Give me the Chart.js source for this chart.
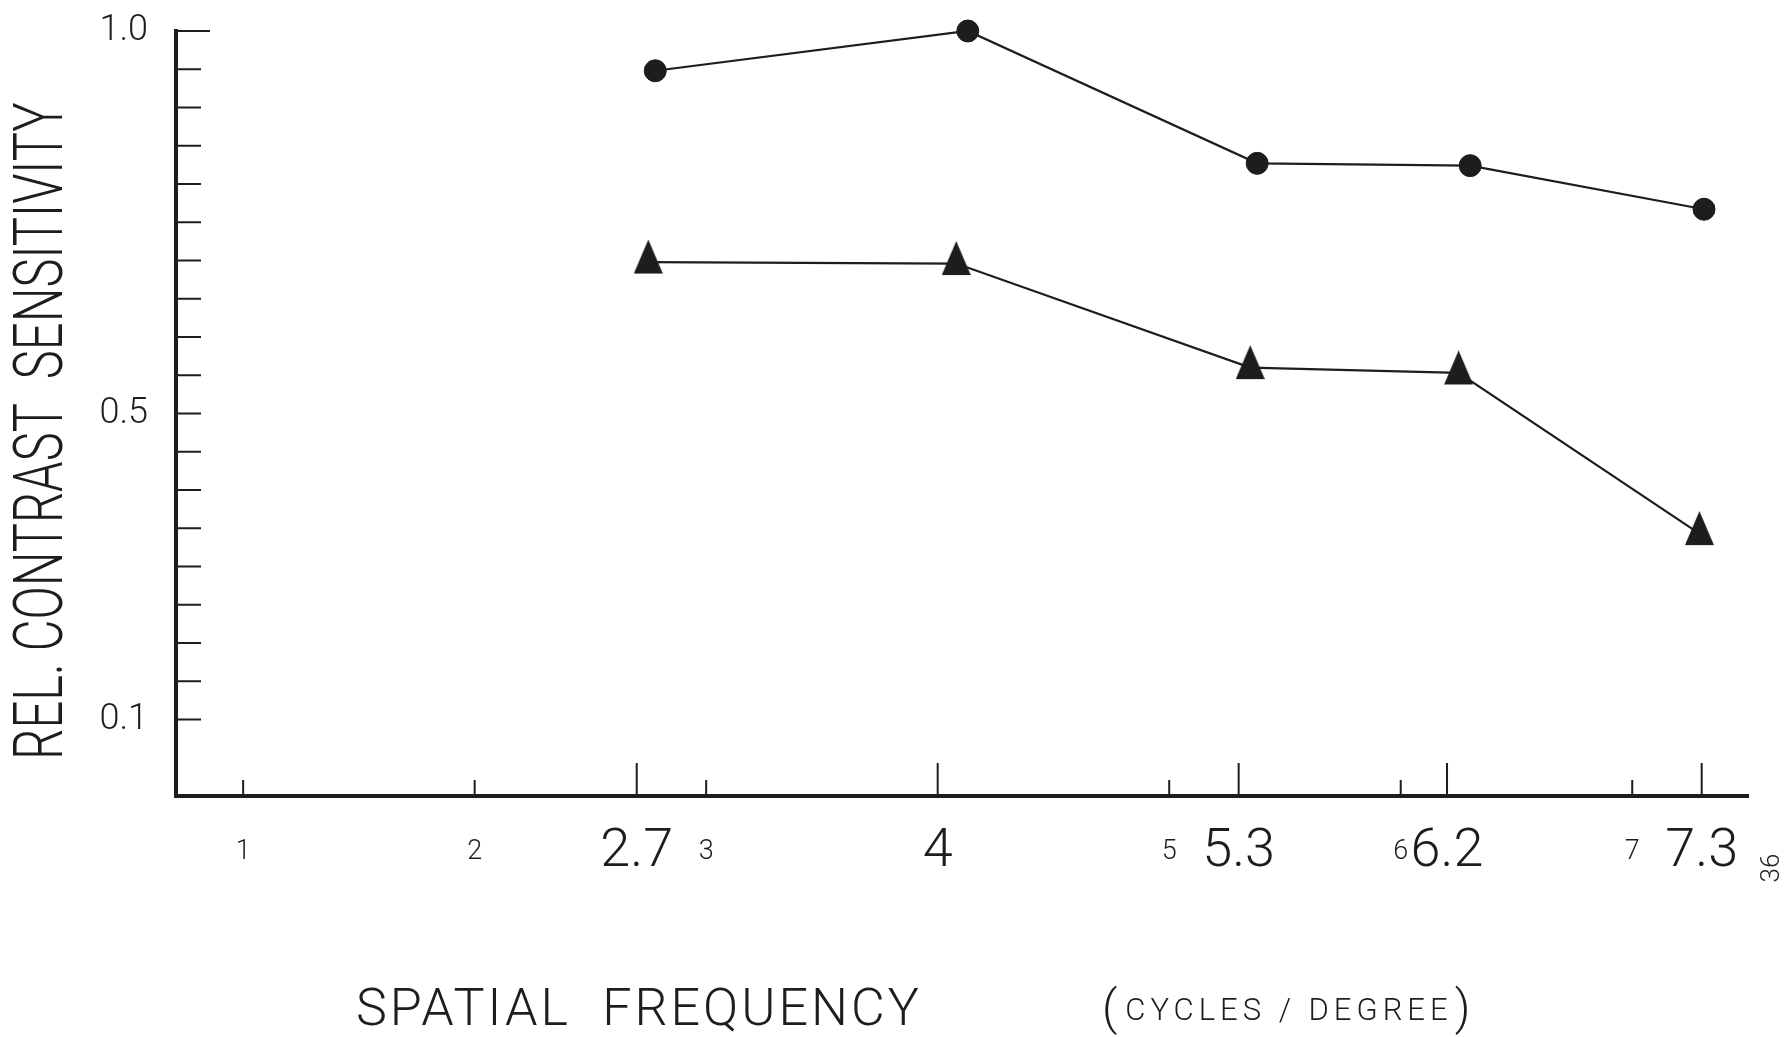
<!DOCTYPE html>
<html>
<head>
<meta charset="utf-8">
<title>Relative contrast sensitivity vs spatial frequency</title>
<script src="https://cdn.jsdelivr.net/npm/chart.js@4.4.1/dist/chart.umd.min.js"></script>
<style>
  html, body { margin: 0; padding: 0; background: #fff; }
  #wrap { width: 1791px; height: 1037px; position: relative; }
</style>
</head>
<body>
<div id="wrap"><canvas id="csChart"></canvas></div>
<script>
// Values
const frequencies = [2.7, 4, 5.3, 6.2, 7.3];   // tested frequencies (big labels)
const integerTicks = [1, 2, 3, 4, 5, 6, 7];    // small scale numbers
const yLabelValues = [0.1, 0.5, 1.0];

// upper curve (filled circles), at the positions they are drawn
const circleX = [2.78, 4.13, 5.38, 6.30, 7.31];
const circleY = [0.948, 1.0, 0.827, 0.824, 0.767];

// lower curve (filled triangles)
const triangleX = [2.75, 4.08, 5.35, 6.25, 7.29];
const triangleY = [0.698, 0.696, 0.560, 0.553, 0.343];

const INK = '#1d1d1d';
const FONT = 'Roboto, "Open Sans", sans-serif';
const BIG = 54;     // size of the frequency labels
const SMALL = 27;   // size of the integer labels

document.addEventListener('DOMContentLoaded', function() {
    initializeChart();
});

function isFrequency(v) {
    return frequencies.some(f => Math.abs(f - v) < 1e-9);
}

// narrow filled triangle; canvas centre sits on the centroid so the line meets it there
function makeTriangle(w, h) {
    const c = document.createElement('canvas');
    c.width = w;
    c.height = Math.round(h * 4 / 3);
    const g = c.getContext('2d');
    g.fillStyle = INK;
    g.beginPath();
    g.moveTo(w / 2, 0);
    g.lineTo(w, h);
    g.lineTo(0, h);
    g.closePath();
    g.fill();
    return c;
}

// inward tick marks and the hand-lettered axis titles
const sketchAxes = {
    id: 'sketchAxes',
    beforeDatasetsDraw(chart) {
        const { ctx, scales: { x, y } } = chart;
        ctx.save();
        ctx.strokeStyle = INK;
        ctx.lineWidth = 2;
        ctx.beginPath();
        y.ticks.forEach(t => {
            if (t.value < 0.099) return;
            const py = y.getPixelForValue(t.value);
            const len = t.value > 0.999 ? 34 : 25;
            ctx.moveTo(y.right, py);
            ctx.lineTo(y.right + len, py);
        });
        x.ticks.forEach(t => {
            const px = x.getPixelForValue(t.value);
            const len = isFrequency(t.value) ? 33 : 16;
            ctx.moveTo(px, x.top);
            ctx.lineTo(px, x.top - len);
        });
        ctx.stroke();
        ctx.restore();
    },
    afterDraw(chart) {
        const ctx = chart.ctx;
        ctx.save();
        ctx.fillStyle = INK;
        ctx.textBaseline = 'middle';

        // y title, condensed like the original lettering
        ctx.save();
        ctx.translate(45, 431);
        ctx.rotate(-Math.PI / 2);
        ctx.scale(0.72, 1);
        ctx.textAlign = 'center';
        ctx.font = '300 68px ' + FONT;
        ctx.fillText('REL. CONTRAST  SENSITIVITY', 0, 0);
        ctx.restore();

        // x title
        ctx.textAlign = 'left';
        ctx.font = '300 52px ' + FONT;
        ctx.letterSpacing = '3px';
        ctx.fillText('SPATIAL  FREQUENCY', 356, 1012);

        let cx = 1102;
        ctx.letterSpacing = '0px';
        ctx.font = '300 48px ' + FONT;
        ctx.fillText('(', cx, 1012);
        cx += ctx.measureText('(').width + 8;
        ctx.font = '300 31px ' + FONT;
        ctx.letterSpacing = '5px';
        ctx.fillText('CYCLES / DEGREE', cx, 1012);
        cx += ctx.measureText('CYCLES / DEGREE').width + 2;
        ctx.letterSpacing = '0px';
        ctx.font = '300 48px ' + FONT;
        ctx.fillText(')', cx, 1012);

        // page number in the margin, written sideways
        ctx.save();
        ctx.translate(1772, 868);
        ctx.rotate(-Math.PI / 2);
        ctx.textAlign = 'center';
        ctx.font = '300 26px ' + FONT;
        ctx.fillText('36', 0, 0);
        ctx.restore();
        ctx.restore();
    }
};

function initializeChart() {
    const canvas = document.getElementById('csChart');
    if (!canvas) return;

    const xTickValues = Array.from(new Set(integerTicks.concat(frequencies))).sort((a, b) => a - b);

    new Chart(canvas.getContext('2d'), {
        type: 'scatter',
        data: {
            datasets: [{
                label: 'circles',
                data: circleX.map((x, i) => ({ x: x, y: circleY[i] })),
                showLine: true,
                borderColor: INK,
                borderWidth: 2.2,
                pointStyle: 'circle',
                pointRadius: 11,
                pointBackgroundColor: INK,
                pointBorderColor: INK,
                pointBorderWidth: 1,
                clip: false
            }, {
                label: 'triangles',
                data: triangleX.map((x, i) => ({ x: x, y: triangleY[i] })),
                showLine: true,
                borderColor: INK,
                borderWidth: 2.2,
                pointStyle: makeTriangle(29, 34),
                pointRadius: 15,
                clip: false
            }]
        },
        options: {
            responsive: true,
            maintainAspectRatio: false,
            animation: false,
            layout: { padding: { top: 31, right: 43, left: 0, bottom: 0 } },
            plugins: {
                legend: { display: false },
                tooltip: { enabled: false }
            },
            scales: {
                x: {
                    type: 'linear',
                    min: 0.71,
                    max: 7.5,
                    afterBuildTicks: s => { s.ticks = xTickValues.map(v => ({ value: v })); },
                    afterFit: s => {
                        s.height = 241;
                        s.paddingLeft = 0;
                        s.paddingRight = 0;
                    },
                    grid: { display: false },
                    border: { display: true, color: INK, width: 4 },
                    ticks: {
                        autoSkip: false,
                        maxRotation: 0,
                        padding: 48,
                        crossAlign: 'center',
                        color: INK,
                        // same line height for both sizes so the labels share one centre line
                        font: c => isFrequency(c.tick ? c.tick.value : 0)
                            ? { family: FONT, size: BIG, weight: 300, lineHeight: 1.2 }
                            : { family: FONT, size: SMALL, weight: 300, lineHeight: BIG * 1.2 / SMALL },
                        callback: v => String(v)
                    }
                },
                y: {
                    type: 'linear',
                    min: 0,
                    max: 1,
                    afterFit: s => {
                        s.width = 176;
                        s.paddingTop = 0;
                        s.paddingBottom = 0;
                    },
                    grid: { display: false },
                    border: { display: true, color: INK, width: 4 },
                    ticks: {
                        stepSize: 0.05,
                        autoSkip: false,
                        padding: 20,
                        color: INK,
                        font: { family: FONT, size: 36, weight: 300 },
                        callback: v => {
                            const r = Math.round(v * 100) / 100;
                            return yLabelValues.some(l => Math.abs(l - r) < 1e-9) ? r.toFixed(1) : '';
                        }
                    }
                }
            }
        },
        plugins: [sketchAxes]
    });
}
</script>
</body>
</html>
